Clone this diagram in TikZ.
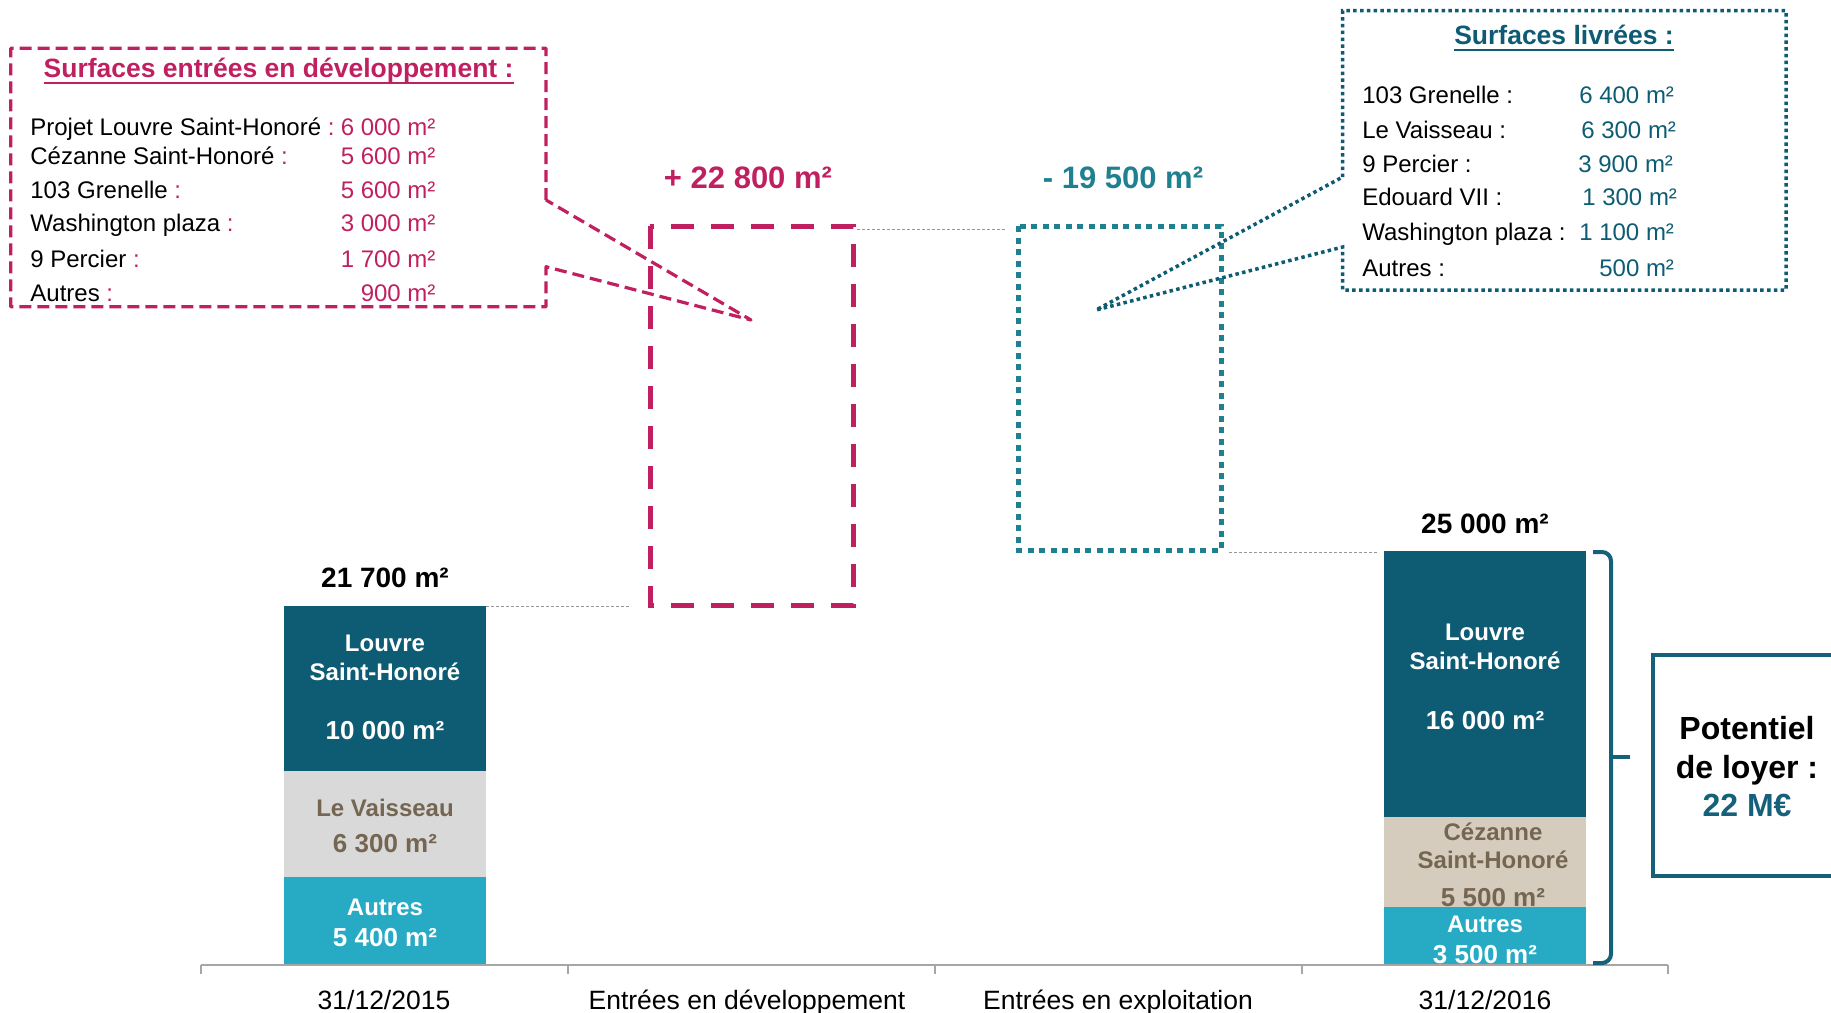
\documentclass[tikz,border=0pt]{standalone}
\usepackage{fontspec}
\setmainfont{Liberation Sans}
\definecolor{mag}{RGB}{192,32,96}
\definecolor{tealb}{RGB}{31,128,143}
\definecolor{dteal}{RGB}{14,92,115}
\definecolor{dteal2}{RGB}{21,96,122}
\definecolor{cyanb}{RGB}{39,170,195}
\definecolor{lgray}{RGB}{217,217,217}
\definecolor{beige}{RGB}{214,204,190}
\definecolor{brownt}{RGB}{117,102,82}
\definecolor{axisg}{RGB}{166,166,166}
\definecolor{thin}{RGB}{150,150,150}
\tikzset{
  fs/.style={inner sep=0pt, outer sep=0pt, text depth=0pt, text height=#1*0.716pt, font=\fontsize{#1}{#1}\selectfont},
  fb/.style={fs=#1, font=\fontsize{#1}{#1}\selectfont\bfseries},
  magcall/.style={draw=mag, line width=3.2pt, dash pattern=on 12pt off 6pt, line join=round},
  tealcall/.style={draw=dteal, line width=3.5pt, dash pattern=on 3.5pt off 3.3pt},
  graydash/.style={draw=thin, line width=1pt, dash pattern=on 3pt off 2pt},
  brace/.style={draw=dteal2, line width=4pt, rounded corners=9pt},
}
\begin{document}
\begin{tikzpicture}[x=1pt,y=-1pt]
\useasboundingbox (0,0) rectangle (1831,1012);

% ---- bars ----
\fill[dteal] (284,605.7) rectangle (486,771);
\fill[lgray] (284,771) rectangle (486,876.7);
\fill[cyanb] (284,876.7) rectangle (486,965);
\fill[dteal] (1384,550.7) rectangle (1586,816.7);
\fill[beige] (1384,816.7) rectangle (1586,907.3);
\fill[cyanb] (1384,907.3) rectangle (1586,965);

\node[fb=28] (tot1) at (385,577) {21 700 m²};
\node[fb=24, white] (l1a) at (385,643) {Louvre};
\node[fb=24, white] (l1b) at (385,672) {Saint-Honoré};
\node[fb=26, white] (l1c) at (385,730) {10 000 m²};
\node[fb=24, brownt] (v1a) at (385,808) {Le Vaisseau};
\node[fb=26, brownt] (v1b) at (385,843) {6 300 m²};
\node[fb=24, white] (a1a) at (385,907) {Autres};
\node[fb=26, white] (a1b) at (385,937) {5 400 m²};

\node[fb=28] (tot2) at (1485,523) {25 000 m²};
\node[fb=24, white] (l2a) at (1485,632) {Louvre};
\node[fb=24, white] (l2b) at (1485,661) {Saint-Honoré};
\node[fb=26, white] (l2c) at (1485,720) {16 000 m²};
\node[fb=24, brownt] (c2a) at (1493,832) {Cézanne};
\node[fb=24, brownt] (c2b) at (1493,860) {Saint-Honoré};
\node[fb=26, brownt] (c2c) at (1493,897) {5 500 m²};
\node[fb=24, white] (a2a) at (1485,924) {Autres};
\node[fb=26, white] (a2b) at (1485,954) {3 500 m²};

% ---- axis ----
\coordinate (ax0) at (201,965);
\coordinate (ax1) at (567.5,965);
\coordinate (ax2) at (934.5,965);
\coordinate (ax3) at (1301.5,965);
\coordinate (ax4) at (1668,965);
\draw[axisg, line width=2pt] (ax0) -- (ax4);
\foreach \c in {ax0,ax1,ax2,ax3,ax4} \draw[axisg, line width=2pt] (\c) -- ++(0,9);
\node[fs=26.5] (x1) at (384,1000) {31/12/2015};
\node[fs=26.5] (x2) at (747,1000) {Entrées en développement};
\node[fs=26.5] (x3) at (1118,1000) {Entrées en exploitation};
\node[fs=26.5] (x4) at (1485,1000) {31/12/2016};

% ---- variation boxes ----
\draw[mag, line width=5pt, dash pattern=on 23pt off 17pt] (650,226) rectangle (853,605);
\draw[tealb, line width=5pt, dash pattern=on 6pt off 5.5pt] (1018,226) rectangle (1221,550);
\node[fb=31, mag] (plus) at (748,177) {+ 22 800 m²};
\node[fb=31, tealb] (minus) at (1123,177) {- 19 500 m²};

% ---- thin dashed links ----
\coordinate (g1a) at (486,606.5); \coordinate (g1b) at (631,606.5);
\coordinate (g2a) at (857,229.5); \coordinate (g2b) at (1006,229.5);
\coordinate (g3a) at (1229,552); \coordinate (g3b) at (1378,552);
\draw[graydash] (g1a) -- (g1b);
\draw[graydash] (g2a) -- (g2b);
\draw[graydash] (g3a) -- (g3b);

% ---- left callout ----
\coordinate (tipL) at (751,320);
\draw[magcall] (546,200) -- (546,48.3) -- (10.7,48.3) -- (10.7,306.7) -- (546,306.7) -- (546,266.7) -- (tipL) -- cycle;
\node[fb=26.5, mag] (lt) at (278.6,68.3) {Surfaces entrées en développement :};
\draw[mag, line width=2.4pt] ([yshift=-5pt]lt.south west) -- ([yshift=-5pt]lt.south east);
\node[fs=24, anchor=west] (lr1) at (30.4,127.3) {Projet Louvre Saint-Honoré \textcolor{mag}{:}};
\node[fs=24, anchor=west] (lr2) at (30.4,156) {Cézanne Saint-Honoré \textcolor{mag}{:}};
\node[fs=24, anchor=west] (lr3) at (30.4,190) {103 Grenelle \textcolor{mag}{:}};
\node[fs=24, anchor=west] (lr4) at (30.4,223.3) {Washington plaza \textcolor{mag}{:}};
\node[fs=24, anchor=west] (lr5) at (30.4,259) {9 Percier \textcolor{mag}{:}};
\node[fs=24, anchor=west] (lr6) at (30.4,293.3) {Autres \textcolor{mag}{:}};
\node[fs=24, mag, anchor=east] (lv1) at (435.5,127.3) {6 000 m²};
\node[fs=24, mag, anchor=east] (lv2) at (435.5,156) {5 600 m²};
\node[fs=24, mag, anchor=east] (lv3) at (435.5,190) {5 600 m²};
\node[fs=24, mag, anchor=east] (lv4) at (435.5,223.3) {3 000 m²};
\node[fs=24, mag, anchor=east] (lv5) at (435.5,259) {1 700 m²};
\node[fs=24, mag, anchor=east] (lv6) at (435.5,293.3) {900 m²};

% ---- right callout ----
\coordinate (tipR) at (1096,310);
\draw[tealcall] (1342.7,177) -- (1342.7,10.7) -- (1786,10.7) -- (1786,290) -- (1342.7,290) -- (1342.7,247) -- (tipR) -- cycle;
\node[fb=26.5, dteal] (rt) at (1564,35.5) {Surfaces livrées :};
\draw[dteal, line width=2.4pt] ([yshift=-5pt]rt.south west) -- ([yshift=-5pt]rt.south east);
\node[fs=24, anchor=west] (rr1) at (1362.3,95) {103 Grenelle :};
\node[fs=24, anchor=west] (rr2) at (1362.3,130) {Le Vaisseau :};
\node[fs=24, anchor=west] (rr3) at (1362.3,164) {9 Percier :};
\node[fs=24, anchor=west] (rr4) at (1362.3,197.3) {Edouard VII :};
\node[fs=24, anchor=west] (rr5) at (1362.3,231.7) {Washington plaza :};
\node[fs=24, anchor=west] (rr6) at (1362.3,268.3) {Autres :};
\node[fs=24, dteal, anchor=east] (rv1) at (1674,95) {6 400 m²};
\node[fs=24, dteal, anchor=east] (rv2) at (1676,130) {6 300 m²};
\node[fs=24, dteal, anchor=east] (rv3) at (1673,164) {3 900 m²};
\node[fs=24, dteal, anchor=east] (rv4) at (1677,197.3) {1 300 m²};
\node[fs=24, dteal, anchor=east] (rv5) at (1674,231.7) {1 100 m²};
\node[fs=24, dteal, anchor=east] (rv6) at (1674,268.3) {500 m²};

% ---- brace and potential box ----
\draw[brace] (1593,552) -- (1611,552) -- (1611,963) -- (1593,963);
\draw[dteal2, line width=4pt] (1611,757) -- (1630,757);
\draw[dteal2, line width=4pt] (1860,655) -- (1653,655) -- (1653,876) -- (1860,876);
\node[fb=32] (p1) at (1747,728) {Potentiel};
\node[fb=32] (p2) at (1747,767) {de loyer :};
\node[fb=32, dteal2] (p3) at (1747,805) {22 M€};
\end{tikzpicture}
\end{document}
